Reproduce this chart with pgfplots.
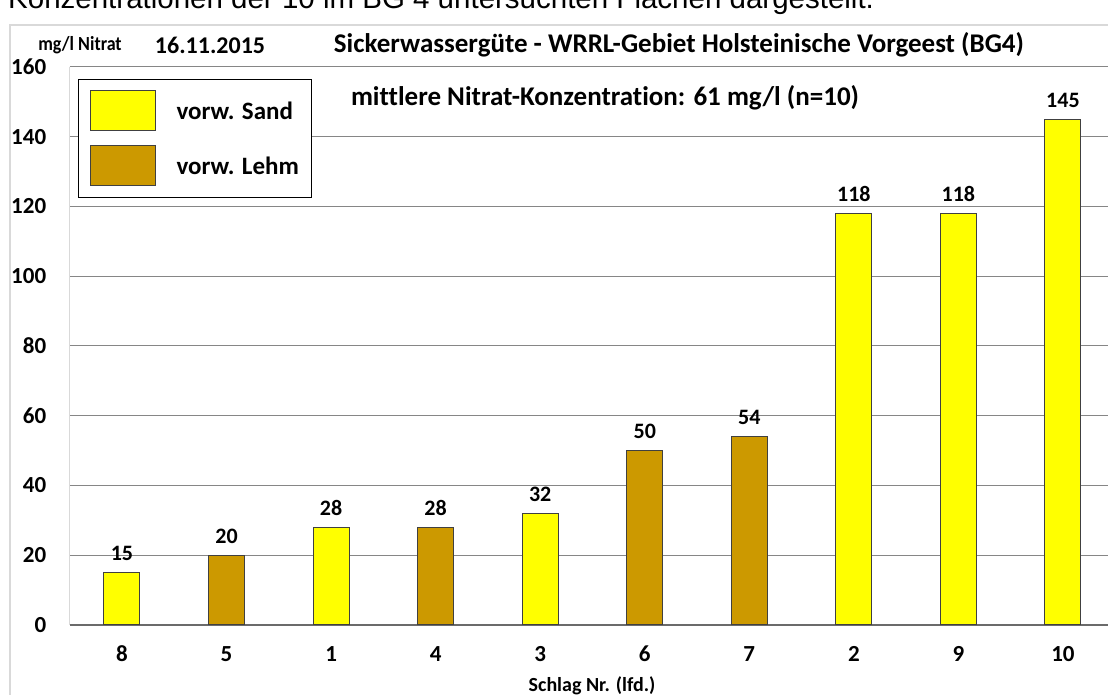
\documentclass[border=0pt]{standalone}
\usepackage{pgfplots}
\pgfplotsset{compat=1.18}
\usepackage{fontspec}
\setmainfont{Carlito}[Ligatures=NoCommon, Numbers=Lining]
\newfontfamily\arialfont{Liberation Sans}
\usepackage{graphicx}
\definecolor{sand}{HTML}{FFFF00}
\definecolor{lehm}{HTML}{CC9900}
\definecolor{gridc}{HTML}{868686}
\definecolor{framec}{HTML}{D9D9D9}
\definecolor{barline}{HTML}{404040}
\newcommand{\fs}[1]{\fontsize{#1pt}{#1pt}\selectfont}
\begin{document}
\begin{tikzpicture}[x=1pt,y=1pt]
\useasboundingbox (0,0) rectangle (1108,695);
\clip (0,0) rectangle (1108,695);
\begin{scope}[overlay]
\draw[framec, line width=1.5pt] (10,670) rectangle (1130,-20);
\node[anchor=base west, inner sep=0, font=\arialfont\fs{29.5}] at (8,686) {Konzentrationen der 10 im BG 4 untersuchten Flächen dargestellt.};
\node[inner sep=0, font=\fs{20}\bfseries] at (80,650) {\scalebox{0.9}[1]{mg/l Nitrat}};
\node[inner sep=0, font=\fs{24}\bfseries] at (210,650) {16.11.2015};
\node[inner sep=0, font=\fs{27}\bfseries] at (679,650) {Sickerwassergüte - WRRL-Gebiet Holsteinische Vorgeest (BG4)};
\node[inner sep=0, font=\fs{27}\bfseries] at (605,597) {mittlere Nitrat-Konzentration: 61 mg/l (n=10)};
\node[inner sep=0, font=\fs{20}\bfseries] at (592,9) {Schlag Nr. (lfd.)};
\begin{axis}[
  at={(69.7pt,70pt)}, anchor=south west, scale only axis,
  width=1045.6pt, height=558pt,
  xmin=-0.5, xmax=9.5, ymin=0, ymax=160,
  ybar, bar width=36pt,
  ytick={0,20,...,160}, xtick={0,...,9},
  xticklabels={8,5,1,4,3,6,7,2,9,10},
  major tick length=0pt,
  ymajorgrids, grid style={draw=gridc, line width=1pt},
  axis x line*=bottom, axis y line*=left,
  x axis line style={draw=gridc!80!black, line width=2pt, -},
  y axis line style={draw=framec, line width=1.2pt, -},
  /pgf/number format/assume math mode=true,
  ticklabel style={font=\fs{23}\bfseries},
  yticklabel style={anchor=east, xshift=-20pt},
  xticklabel style={anchor=north, text height=0.63em, yshift=-27pt},
  nodes near coords,
  nodes near coords style={font=\fs{22}\bfseries, yshift=8pt, text=black},
  legend image code/.code={\draw[#1, line width=1pt] (0pt,-20pt) rectangle (65pt,20pt);},
  legend cell align=left,
  legend style={at={(0.008,0.9785)}, anchor=north west, draw=black, line width=1pt,
    inner xsep=11pt, inner ysep=11pt, row sep=14pt, font=\fs{25}\bfseries,
    /tikz/every odd column/.append style={column sep=19pt}},
]
\addplot[bar shift=0pt, fill=sand, draw=barline, line width=1pt]
  coordinates {(0,15) (2,28) (4,32) (7,118) (8,118) (9,145)};
\addlegendentry{vorw. Sand}
\addplot[bar shift=0pt, fill=lehm, draw=barline, line width=1pt]
  coordinates {(1,20) (3,28) (5,50) (6,54)};
\addlegendentry{vorw. Lehm}
\end{axis}
\end{scope}
\end{tikzpicture}
\end{document}
